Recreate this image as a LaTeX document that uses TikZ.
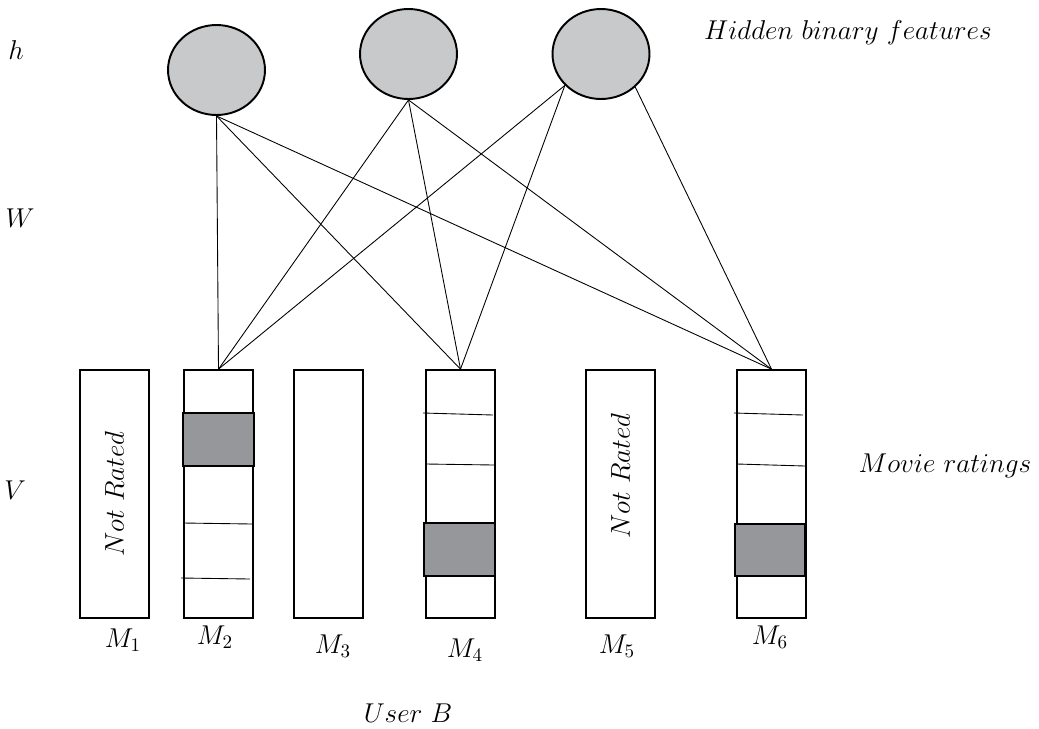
\RequirePackage{fix-cm}
\documentclass[tikz,border=0pt]{standalone}
\usetikzlibrary{shapes.geometric}
\definecolor{hidgray}{RGB}{200,201,203}
\definecolor{cellgray}{RGB}{150,151,155}
\tikzset{
  hidden/.style={ellipse, draw, line width=1.1pt, fill=hidgray, minimum width=1.94cm, minimum height=1.8cm, inner sep=0pt},
  movie/.style={rectangle, draw, line width=1pt, minimum width=1.38cm, minimum height=4.96cm, inner sep=0pt},
  cell/.style={draw, line width=1pt, fill=cellgray},
  row/.style={line width=0.5pt},
  wire/.style={line width=0.5pt},
  lbl/.style={inner sep=0pt, font=\fontsize{15.5}{18}\selectfont}
}
\begin{document}
\begin{tikzpicture}[x=0.02cm, y=-0.02cm]
\useasboundingbox (0,0) rectangle (1039,728);
% hidden units
\node[hidden] (h1) at (216.5,70) {};
\node[hidden] (h2) at (408.5,54) {};
\node[hidden] (h3) at (601,54) {};
% visible units
\node[movie] (m1) at (114.5,494) {};
\node[movie] (m2) at (218.5,494) {};
\node[movie] (m3) at (328.5,494) {};
\node[movie] (m4) at (460.5,494) {};
\node[movie] (m5) at (620.5,494) {};
\node[movie] (m6) at (771.5,494) {};
% rating cells
\draw[cell] (183,413) rectangle (254,466);
\draw[row] (183,523) -- (252,524); \draw[row] (181,578) -- (250,579);
\draw[cell] (424,523) rectangle (495,576);
\draw[row] (423,413) -- (493,415); \draw[row] (426,464) -- (494,465);
\draw[cell] (735,524) rectangle (805,576);
\draw[row] (734,413) -- (803,415); \draw[row] (737,464) -- (805,466);
% weights
\draw[wire] (h1.south) -- (m2.north);
\draw[wire] (h1.south) -- (m4.north);
\draw[wire] (h1.south) -- (m6.north);
\draw[wire] (h2.south) -- (m2.north);
\draw[wire] (h2.south) -- (m4.north);
\draw[wire] (h2.south) -- (m6.north);
\draw[wire] (h3.-139) -- (m2.north);
\draw[wire] (h3.-139) -- (m4.north);
\draw[wire] (h3.-44) -- (m6.north);
% texts
\node[lbl, rotate=90] (nr1) at (m1) {$Not\ Rated$};
\node[lbl, rotate=90] (nr5) at (620.5,476) {$Not\ Rated$};
\node[lbl] (l1) at (123,640) {$M_1$};
\node[lbl] (l2) at (215,637) {$M_2$};
\node[lbl] (l3) at (333,646) {$M_3$};
\node[lbl] (l4) at (465,650) {$M_4$};
\node[lbl] (l5) at (617,646) {$M_5$};
\node[lbl] (l6) at (770,637) {$M_6$};
\node[lbl] (user) at (408,713) {$User\ B$};
\node[lbl] (hbf) at (848,33) {$Hidden\ binary\ features$};
\node[lbl] (mr) at (945,466) {$Movie\ ratings$};
\node[lbl] (lh) at (16,50) {$h$};
\node[lbl] (lw) at (20,218) {$W$};
\node[lbl] (lv) at (15,490) {$V$};
\end{tikzpicture}
\end{document}
